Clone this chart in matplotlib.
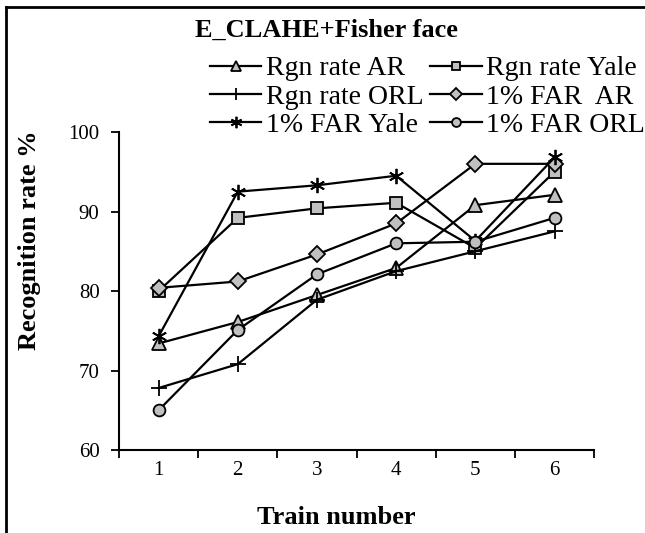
import matplotlib
matplotlib.use("Agg")
import matplotlib.pyplot as plt
from matplotlib.lines import Line2D

plt.rcParams['font.family'] = ['Liberation Serif', 'DejaVu Serif']

train = [1, 2, 3, 4, 5, 6]
rgn_ar = [73.4, 76.1, 79.5, 82.9, 90.8, 92.1]
rgn_yale = [80.0, 89.2, 90.4, 91.1, 85.4, 95.0]
rgn_orl = [67.8, 70.8, 78.9, 82.5, 85.0, 87.5]
far_ar = [80.4, 81.2, 84.6, 88.5, 96.0, 96.0]
far_yale = [74.3, 92.5, 93.3, 94.5, 86.3, 96.8]
far_orl = [65.0, 75.1, 82.1, 86.0, 86.2, 89.2]

labels = ['Rgn rate AR', 'Rgn rate Yale', 'Rgn rate ORL',
          '1% FAR  AR', '1% FAR Yale', '1% FAR ORL']

fig = plt.figure(figsize=(6.45, 5.33), dpi=100)
ax = fig.add_axes([0.1845, 0.1557, 0.7366, 0.5966])

gray = '#c0c0c0'
style = dict(color='black', linewidth=1.6, markeredgecolor='black',
             markerfacecolor=gray, markeredgewidth=1.3)
h1, = ax.plot(train, rgn_ar, marker='^', markersize=10, **style)
h2, = ax.plot(train, rgn_yale, marker='s', markersize=8.5, **style)
h3, = ax.plot(train, rgn_orl, marker='+', markersize=11, **style)
h4, = ax.plot(train, far_ar, marker='D', markersize=8.5, **style)
h5, = ax.plot(train, far_yale, marker=(6, 2, 0), markersize=11, **style)
h6, = ax.plot(train, far_orl, marker='o', markersize=8.5, **style)

ax.set_xlim(0.5, 6.5)
ax.set_ylim(60, 100)
ax.set_yticks([60, 70, 80, 90, 100])
ax.set_xticks([0.5, 1.5, 2.5, 3.5, 4.5, 5.5, 6.5])
ax.set_xticklabels([])
ax.set_xticks(train, minor=True)
ax.set_xticklabels([str(t) for t in train], minor=True)
ax.tick_params(axis='x', which='minor', length=0, labelsize=15, pad=8)
ax.tick_params(axis='x', which='major', length=6, width=1.3, direction='out')
ax.tick_params(axis='y', length=6, width=1.3, direction='out', labelsize=15, pad=8)
for s in ['top', 'right']:
    ax.spines[s].set_visible(False)
for s in ['left', 'bottom']:
    ax.spines[s].set_linewidth(1.5)

fig.text(30 / 645, 1 - 240 / 533, 'Recognition rate %', fontsize=19,
         fontweight='bold', rotation=90, ha='center', va='center')
fig.text(336 / 645, 1 - 518 / 533, 'Train number', fontsize=19,
         fontweight='bold', ha='center', va='center')
fig.text(0.506, 0.944, 'E_CLAHE+Fisher face', fontsize=19, fontweight='bold',
         ha='center', va='center')

handles = [h1, h3, h5, h2, h4, h6]
leg_labels = [labels[0], labels[2], labels[4], labels[1], labels[3], labels[5]]
fig.legend(handles, leg_labels, ncol=2, loc='upper left',
           bbox_to_anchor=(210 / 645, 0.895), frameon=False, fontsize=20,
           handlelength=1.85, handletextpad=0.15, columnspacing=0.25,
           labelspacing=0.1, borderpad=0, borderaxespad=0, markerscale=0.75)

# outer frame (left and top edges visible)
fig.add_artist(Line2D([0.0093, 0.0093], [0.0, 0.986], color='black', linewidth=2))
fig.add_artist(Line2D([0.0093, 1.0], [0.986, 0.986], color='black', linewidth=2))

fig.savefig('out.png', dpi=100)
